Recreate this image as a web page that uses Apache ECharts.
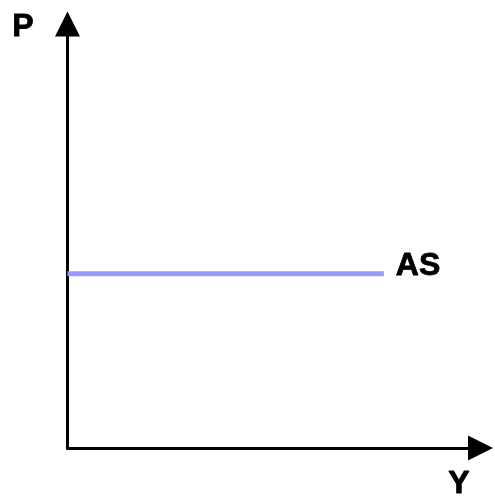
<!DOCTYPE html>
<html>
<head>
<meta charset="utf-8">
<script src="https://cdn.jsdelivr.net/npm/echarts@6/dist/echarts.min.js"></script>
<style>
  html, body { margin: 0; padding: 0; background: #fff; }
  #chart { width: 495px; height: 504px; }
</style>
</head>
<body>
<div id="chart"></div>
<script>
const xName = "Y";
const yName = "P";
const asName = "AS";
const asX = [0, 76.6];
const asY = [41.1, 41.1];

const font = 'Arial, "Liberation Sans", sans-serif';
const ink = "#000000";
const asColor = "#9999ff";

// bold labels, stroked a little to match the heavy lettering
const labelText = {
  color: ink,
  fontFamily: font,
  fontSize: 32,
  fontWeight: "bold",
  textBorderColor: ink,
  textBorderWidth: 0.8,
};

function axisBase() {
  return {
    type: "value",
    min: 0,
    max: 100,
    axisLine: {
      show: true,
      onZero: false,
      symbol: ["none", "triangle"],
      symbolSize: [25, 25],
      lineStyle: { color: ink, width: 3 },
    },
    axisTick: { show: false },
    axisLabel: { show: false },
    splitLine: { show: false },
  };
}

const chart = echarts.init(document.getElementById("chart"), null, { renderer: "canvas" });

chart.setOption({
  animation: false,
  backgroundColor: "#ffffff",
  textStyle: { fontFamily: font },
  grid: { left: 67.5, right: 14.5, top: 24, bottom: 56, containLabel: false },
  xAxis: {
    ...axisBase(),
    name: xName,
    nameLocation: "end",
    nameGap: -21.5,
    nameTextStyle: {
      ...labelText,
      align: "center",
      verticalAlign: "top",
      padding: [20, 0, 0, 0],
    },
  },
  yAxis: {
    ...axisBase(),
    name: yName,
    nameLocation: "end",
    nameGap: -3.5,
    nameTextStyle: {
      ...labelText,
      align: "right",
      verticalAlign: "middle",
      padding: [0, 34, 0, 0],
    },
  },
  series: [
    {
      name: asName,
      type: "line",
      data: asX.map((x, i) => [x, asY[i]]),
      symbol: "none",
      lineStyle: { color: asColor, width: 5, cap: "butt" },
      endLabel: {
        show: true,
        formatter: asName,
        distance: 12,
        offset: [0, -8],
        ...labelText,
      },
      z: 1,
    },
  ],
});
</script>
</body>
</html>
